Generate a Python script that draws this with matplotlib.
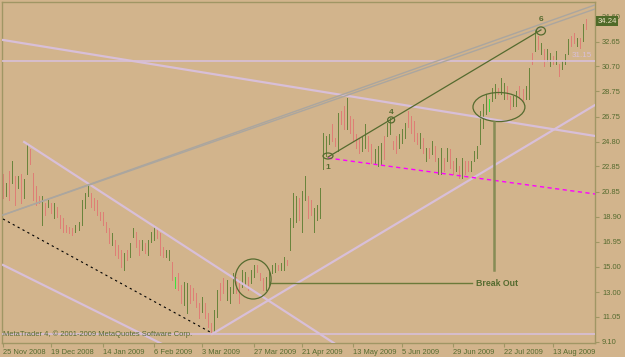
import numpy as np
import matplotlib
matplotlib.use("Agg")
import matplotlib.pyplot as plt
from matplotlib.patches import Ellipse
import matplotlib.transforms as mtransforms

# daily bars (high / low / direction: u=up, d=down, g=highlighted up)
highs = [22.29, 21.58, 22.52, 23.30, 22.13, 22.13, 22.29, 21.90, 24.70, 24.24,
         22.36, 21.35, 20.57, 20.57, 20.02, 20.18, 20.02, 20.02, 19.63, 19.01,
         18.78, 18.23, 18.07, 18.00, 18.23, 18.46, 20.18, 20.80, 21.58, 20.73,
         20.41, 20.18, 19.24, 19.24, 18.46, 18.00, 17.61, 17.06, 16.67, 16.28,
         16.05, 16.28, 16.83, 18.00, 17.68, 17.06, 17.06, 16.83, 17.06, 17.68,
         18.07, 18.00, 17.61, 16.51, 16.28, 16.28, 15.34, 14.17, 14.49, 13.55,
         13.78, 13.71, 13.55, 13.32, 12.93, 12.15, 12.61, 12.15, 11.37, 10.59,
         11.60, 13.16, 13.71, 14.10, 13.94, 13.39, 14.49, 14.17, 13.94, 14.72,
         14.56, 14.17, 14.72, 15.11, 15.11, 14.49, 14.10, 14.17, 14.56, 15.11,
         15.27, 15.11, 15.27, 15.73, 15.50, 18.78, 20.73, 20.57, 20.41, 20.96,
         22.13, 20.57, 20.18, 19.56, 19.79, 21.19, 25.48, 25.25, 25.41, 26.19,
         25.09, 27.04, 27.20, 27.59, 28.21, 26.81, 26.58, 25.41, 25.09, 25.25,
         26.19, 25.25, 24.63, 24.24, 24.47, 24.70, 25.25, 26.26, 26.65, 24.86,
         25.25, 25.41, 25.80, 26.26, 27.20, 26.81, 26.42, 25.48, 25.48, 25.09,
         24.31, 24.31, 24.86, 24.47, 23.53, 24.31, 23.53, 24.31, 24.24, 23.30,
         23.53, 22.91, 23.53, 23.30, 23.30, 23.30, 24.08, 24.47, 27.20, 27.75,
         28.53, 28.14, 28.99, 29.31, 28.99, 29.77, 29.38, 29.15, 28.37, 28.37,
         28.76, 29.15, 28.92, 29.15, 30.55, 31.72, 33.60, 33.05, 32.50, 32.04,
         32.04, 31.72, 31.49, 31.88, 30.87, 31.10, 31.65, 32.82, 33.05, 33.28,
         32.89, 32.89, 34.06, 34.38]
lows = [20.34, 20.57, 20.18, 21.58, 19.79, 21.12, 20.02, 20.34, 22.29, 23.07,
        20.18, 19.79, 20.02, 18.23, 19.01, 19.63, 19.17, 18.78, 18.85, 18.00,
        17.68, 17.68, 17.61, 17.45, 17.68, 17.84, 18.23, 19.56, 20.57, 19.63,
        19.40, 19.01, 18.62, 18.23, 17.68, 16.83, 16.67, 15.89, 15.66, 14.95,
        14.72, 15.50, 15.73, 17.29, 16.51, 15.89, 16.28, 16.05, 15.89, 16.90,
        17.06, 17.22, 15.89, 15.73, 15.73, 15.50, 13.94, 13.32, 13.16, 12.15,
        11.99, 11.37, 12.15, 12.38, 11.83, 10.98, 11.44, 10.98, 10.27, 9.81,
        9.81, 11.05, 12.38, 12.93, 12.38, 12.15, 12.93, 12.93, 12.15, 13.39,
        13.55, 13.16, 13.71, 14.17, 14.56, 13.94, 13.16, 13.16, 13.55, 14.49,
        14.56, 14.72, 14.72, 14.72, 15.11, 16.28, 18.07, 18.46, 18.62, 17.68,
        20.18, 18.78, 19.01, 17.68, 18.62, 18.78, 22.68, 23.69, 24.63, 24.86,
        24.47, 24.08, 26.19, 25.80, 25.80, 25.48, 24.86, 24.31, 23.92, 24.08,
        24.31, 24.08, 23.14, 23.07, 22.91, 23.07, 23.46, 25.25, 25.41, 24.24,
        23.92, 24.31, 24.70, 25.09, 25.95, 25.48, 24.86, 24.63, 24.31, 23.92,
        23.30, 23.53, 23.85, 23.30, 22.29, 22.29, 22.52, 23.30, 22.75, 22.29,
        22.52, 21.97, 21.97, 22.29, 22.52, 22.52, 23.30, 23.53, 24.63, 25.87,
        26.97, 27.20, 27.98, 28.21, 28.53, 28.53, 28.14, 28.14, 27.36, 27.59,
        27.59, 28.21, 27.98, 28.14, 28.14, 30.87, 31.88, 32.04, 31.65, 30.71,
        31.10, 30.71, 30.87, 30.87, 29.93, 30.48, 30.87, 31.65, 32.27, 32.50,
        32.27, 32.11, 32.66, 33.67]
dirs = ("dudududuud" "dddudududd" "dddduuuuud" "dddddduddd" "uduudduduu"
        "uddduudgdd" "uudddduddd" "uudduuuddu" "uduuddduuu" "uduuduuudu"
        "udduuuuuud" "dudduddddu" "udduuuduud" "duuuddddud" "ududuududd"
        "ududduuuuu" "uguuduuddu" "udduududud" "uududuuudd" "udud")
last_price = 34.24

date_labels = ['25 Nov 2008', '19 Dec 2008', '14 Jan 2009', '6 Feb 2009', '3 Mar 2009',
               '27 Mar 2009', '21 Apr 2009', '13 May 2009', '5 Jun 2009', '29 Jun 2009',
               '22 Jul 2009', '13 Aug 2009']
date_bars = [0, 16, 33, 50, 66, 83, 99, 116, 132, 149, 166, 182]
price_ticks = [34.60, 32.65, 30.70, 28.75, 26.75, 24.80, 22.85, 20.85, 18.90,
               16.95, 15.00, 13.00, 11.05, 9.10]

# chart objects (bar index, price)
hline_top = 31.15
hline_bottom = 9.70
long_desc = [(0, 32.77), (196, 25.24)]
channel_top = [(7, 24.77), (109, 9.08)]
channel_low = [(0, 15.12), (52, 9.00)]
dotted_black = [(0, 18.73), (69.2, 9.78)]
silver_a = [(0, 19.04), (196, 35.52)]
silver_b = [(0, 19.04), (196, 35.20)]
rising = [(69.2, 9.70), (196, 27.67)]
trend_16 = [(107.6, 23.59), (178.1, 33.56)]
magenta = [(107.6, 23.51), (196, 20.69)]
points = {'1': (107.6, 23.67, 3.3, 0.47, 22.75),
          '4': (128.5, 26.50, 2.3, 0.47, 27.10),
          '6': (178.1, 33.48, 3.0, 0.63, 34.40)}
big_ellipse = (164.2, 27.51, 17.2, 2.28)
small_ellipse = (82.8, 14.02, 11.9, 3.14)
breakout_vline = (162.6, 26.34, 14.73)
breakout_hline = (88.7, 155.3, 13.70)

bg = '#D2B48C'
olive = '#556B2F'
frame = '#A09664'
thistle = '#D8BFD8'

fig = plt.figure(figsize=(6.25, 3.57), dpi=100)
fig.patch.set_facecolor(bg)
ax = fig.add_axes([2/625, 14/357, 593/625, 341/357])
ax.set_facecolor(bg)
ax.set_xlim(-0.33, 196.0)
ax.set_ylim(9.00, 35.75)

# bars, one pixel wide
idx = np.arange(len(highs))
col_map = {'u': '#6A843C', 'd': '#DE7E75', 'g': '#3CE03C'}
cols = [col_map[c] for c in dirs]
ax.vlines(idx, lows, highs, colors=cols, lw=0.72, antialiased=False, zorder=2)

def ray(p1, p2, x_end=200):
    k = (p2[1]-p1[1])/(p2[0]-p1[0])
    return [p1[0], x_end], [p1[1], p1[1]+k*(x_end-p1[0])]

def seg(p1, p2):
    return [p1[0], p2[0]], [p1[1], p2[1]]

# lavender objects
ax.axhline(hline_top, color=thistle, lw=1.2, zorder=3)
ax.axhline(hline_bottom, color=thistle, lw=1.2, zorder=3)
ax.plot(*ray(long_desc[0], long_desc[1]), color=thistle, lw=1.6, zorder=3)
ax.plot(*ray(channel_top[0], channel_top[1]), color=thistle, lw=1.6, zorder=3)
ax.plot(*ray(channel_low[0], channel_low[1]), color=thistle, lw=1.6, zorder=3)
ax.plot(*ray(rising[0], rising[1]), color=thistle, lw=1.6, zorder=3)

# silver lines
ax.plot(*ray(silver_a[0], silver_a[1]), color='#ABA69F', lw=1, zorder=3)
ax.plot(*ray(silver_b[0], silver_b[1]), color='#ABA69F', lw=1, zorder=3)

# dotted lines
ax.plot(*seg(dotted_black[0], dotted_black[1]), color='black', lw=0.8,
        ls=(0, (2, 3)), zorder=3)
ax.plot(*ray(magenta[0], magenta[1]), color='#FF00FF', lw=1, ls=(0, (3, 2.5)), zorder=3)

# wave 1-4-6 trend line
ax.plot(*seg(trend_16[0], trend_16[1]), color=olive, lw=0.9, zorder=4)
for name, (px, py, w, h, ty) in points.items():
    ax.add_patch(Ellipse((px, py), w, h, fill=False, ec=olive, lw=0.9, zorder=4))
    ax.text(px, ty, name, color=olive, fontsize=6, fontweight='bold',
            ha='center', va='center', family='Liberation Sans', zorder=5)

# break out marks
ax.add_patch(Ellipse(big_ellipse[:2], big_ellipse[2], big_ellipse[3], fill=False,
                     ec=olive, lw=0.9, zorder=4))
ax.add_patch(Ellipse(small_ellipse[:2], small_ellipse[2], small_ellipse[3], fill=False,
                     ec=olive, lw=0.9, zorder=4))
ax.plot([breakout_vline[0]]*2, breakout_vline[1:], color='#868C55', lw=1.8, zorder=4)
ax.plot(breakout_hline[:2], [breakout_hline[2]]*2, color='#6B7A3A', lw=1, zorder=4)
ax.text(breakout_hline[1] + 1.2, breakout_hline[2], 'Break Out', color=olive,
        fontsize=6.3, fontweight='bold', va='center', ha='left',
        family='Liberation Sans', zorder=5)

# level label on the horizontal line
ax.text(195.0, hline_top + 0.1, '%.2f' % hline_top, color=thistle, fontsize=5.8,
        ha='right', va='bottom', family='Liberation Sans', zorder=5)

# axes styling
for s in ax.spines.values():
    s.set_color(frame)
    s.set_linewidth(1)
ax.yaxis.tick_right()
ax.set_yticks(price_ticks)
ax.set_yticklabels(['%.2f' % p for p in price_ticks])
ax.set_xticks(date_bars)
ax.set_xticklabels(date_labels, ha='left')
ax.tick_params(axis='both', colors=frame, labelcolor=olive, labelsize=5.4,
               length=3, width=0.8, direction='out')
ax.tick_params(axis='x', pad=1.5)
ax.tick_params(axis='y', pad=2)
for lab in ax.get_xticklabels() + ax.get_yticklabels():
    lab.set_family('Liberation Sans')

# current price box, drawn over the top price label as in the terminal
trans = mtransforms.blended_transform_factory(ax.transAxes, ax.transData)
ax.text(1.004, last_price, '%.2f' % last_price, transform=trans, color='#EDE3C4',
        fontsize=5.6, ha='left', va='center', family='Liberation Sans', zorder=6,
        clip_on=False,
        bbox=dict(boxstyle='square,pad=0.2', fc='#4F6A28', ec='none'))

fig.text(3/625, 1 - 334/357, 'MetaTrader 4, \u00a9 2001-2009 MetaQuotes Software Corp.',
         color=olive, fontsize=5.4, va='center', ha='left', family='Liberation Sans')

fig.savefig('out.png', dpi=100, facecolor=bg)
